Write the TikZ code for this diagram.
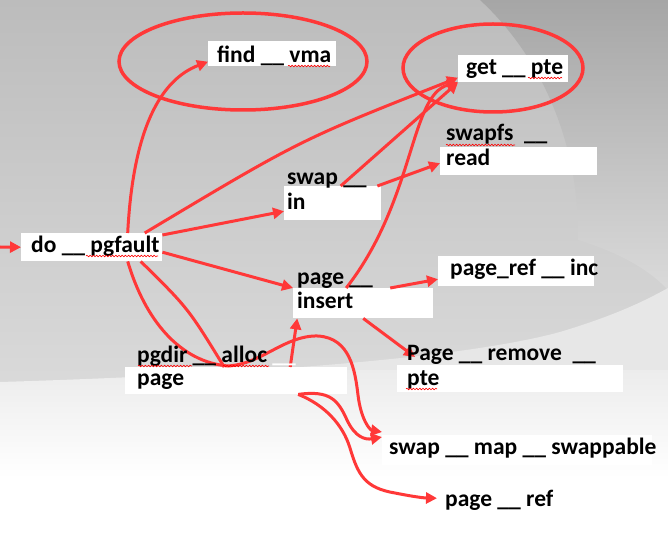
\documentclass[tikz,border=0pt]{standalone}
\usepackage{fontspec}
\setmainfont{Carlito}
\usetikzlibrary{arrows.meta,decorations.pathmorphing}
\definecolor{callred}{RGB}{255,56,56}
\definecolor{bgtop}{RGB}{188,188,188}
\definecolor{bgmid}{RGB}{218,218,218}
\definecolor{bgdark}{RGB}{166,166,166}
\definecolor{bglight}{RGB}{236,236,236}
\tikzset{
  fnbox/.style={fill=white, inner sep=0pt, anchor=north west},
  fntext/.style={font=\fontsize{23.5}{28}\selectfont\bfseries, inner sep=0pt, anchor=base west, text=black},
  link/.style={draw=callred, line width=3pt},
  call/.style={link, -{Triangle[length=11pt,width=11pt]}},
  ring/.style={draw=callred, line width=3.5pt},
  squig/.style={draw=red, line width=0.6pt, decorate, decoration={snake, amplitude=0.8pt, segment length=3.2pt}}
}
\begin{document}
\begin{tikzpicture}[x=1pt, y=-1pt]
  \useasboundingbox (0,0) rectangle (668,534);
  % background
  \shade[top color=bgtop, bottom color=bgmid] (0,0) rectangle (668,390);
  \shade[top color=bgdark, bottom color=bgmid] (480,0) .. controls (545,60) and (580,150) .. (578,240) .. controls (610,250) and (645,265) .. (668,290) -- (668,0) -- cycle;
  \begin{scope}
    \clip (0,382) .. controls (200,376) and (450,362) .. (560,332) .. controls (620,314) and (650,298) .. (668,288) -- (668,534) -- (0,534) -- cycle;
    \fill[bglight!95!gray] (0,280) rectangle (668,370);
    \shade[top color=bglight, bottom color=white] (0,370) rectangle (668,478);
    \fill[white] (0,478) rectangle (668,534);
  \end{scope}

  % boxes
  \node[fnbox, minimum width=141pt, minimum height=28pt] (dopgfault) at (21,233) {};
  \node[fnbox, minimum width=128pt, minimum height=25pt] (findvma) at (208,41) {};
  \node[fnbox, minimum width=110pt, minimum height=27pt] (getpte) at (458,55) {};
  \node[fnbox, minimum width=157pt, minimum height=28pt] (swapfsread) at (440,147) {};
  \node[fnbox, minimum width=97pt, minimum height=34pt] (swapin) at (284,186) {};
  \node[fnbox, minimum width=140pt, minimum height=30pt] (pageinsert) at (293,288) {};
  \node[fnbox, minimum width=156pt, minimum height=30pt] (pagerefinc) at (438,256) {};
  \node[fnbox, minimum width=226pt, minimum height=27pt] (pageremovepte) at (397,365) {};
  \node[fnbox, minimum width=222pt, minimum height=27pt] (pgdirallocpage) at (125,367) {};
  \node[fnbox, minimum width=270pt, minimum height=30pt] (swapmap) at (382,435) {};
  \node[fnbox, minimum width=120pt, minimum height=28pt] (pageref) at (437,484) {};
  \coordinate (entry) at (0,247);

  % calls
  \draw[call] (entry) -- (dopgfault.west);
  \draw[call] ([xshift=36pt]dopgfault.north) .. controls (133,130) and (160,80) .. ([yshift=-8pt]findvma.west);
  \draw[call] ([xshift=53pt]dopgfault.north) .. controls (300,140) .. ([yshift=-9pt]getpte.west);
  \draw[call] ([yshift=-2pt]dopgfault.north east) -- ([yshift=-8pt]swapin.west);
  \draw[call] ([xshift=8pt]swapin.north) -- (getpte.south west);
  \draw[call] ([xshift=-4pt]swapin.north east) -- ([yshift=-2pt]swapfsread.west);
  \draw[call] ([yshift=-5pt]dopgfault.east) -- (pageinsert.north west);
  \draw[call] ([xshift=-17pt]pageinsert.north) .. controls (415,200) and (410,95) .. (getpte.south west);
  \draw[call] ([xshift=27pt]pageinsert.north) -- ([yshift=-8pt]pagerefinc.west);
  \draw[call] (pageinsert.south) -- ([xshift=18pt,yshift=8pt]pageremovepte.north west);
  \draw[call] ([xshift=36pt]dopgfault.south) .. controls (145,320) and (180,362) .. (228,366)
    .. controls (262,364) and (285,335) .. (318,336) .. controls (350,338) and (355,370) .. (358,395)
    .. controls (361,420) and (370,430) .. ([yshift=3pt]swapmap.north west);
  \draw[link] ([xshift=49pt]dopgfault.south) .. controls (188,308) .. ([xshift=-12pt]pgdirallocpage.north);
  \draw[call] ([xshift=54pt]pgdirallocpage.north) -- ([xshift=-66pt]pageinsert.south);
  \draw[call] ([xshift=62pt]pgdirallocpage.south) .. controls (330,390) and (338,400) .. (347,420)
    .. controls (355,437) and (365,440) .. ([yshift=-2pt]swapmap.north west);
  \draw[call] ([xshift=62pt]pgdirallocpage.south) .. controls (325,405) and (343,425) .. (350,448)
    .. controls (358,475) and (365,488) .. (395,493) .. controls (415,497) and (425,498) .. (pageref.west);

  % circled functions
  \draw[ring] (243,61.5) ellipse [x radius=124, y radius=48.5];
  \draw[ring] (493,68) ellipse [x radius=90, y radius=44];

  % labels
  \node[fntext] (t-dopgfault) at (31,253) {do \_\_ pgfault};
  \node[fntext] (t-findvma) at (217,63) {find \_\_ vma};
  \node[fntext] (t-getpte) at (466,75) {get \_\_ pte};
  \node[fntext] (t-swapfs) at (446,141) {swapfs\ \ \_\_};
  \node[fntext] (t-read) at (446,166) {read};
  \node[fntext] (t-swap) at (287,185) {swap \_\_};
  \node[fntext] (t-in) at (287,210) {in};
  \node[fntext] (t-page) at (297,284) {page \_\_};
  \node[fntext] (t-insert) at (297,308) {insert};
  \node[fntext] (t-pagerefinc) at (450,276) {page\_ref \_\_ inc};
  \node[fntext] (t-pageremove) at (407,360) {Page \_\_ remove\ \ \_\_};
  \node[fntext] (t-pte) at (407,385) {pte};
  \node[fntext] (t-pgdiralloc) at (137,362) {pgdir \_\_ alloc \textcolor{white}{\_\_}};
  \node[fntext] (t-pagealloc) at (137,385) {page};
  \node[fntext] (t-swapmap) at (389,454) {swap \_\_ map \_\_ swappable};
  \node[fntext] (t-pageref) at (445,506) {page \_\_ ref};

  % spelling marks
  \draw[squig] (86,256) -- (158,256);
  \draw[squig] (288,66) -- (330,66);
  \draw[squig] (528,78) -- (562,78);
  \draw[squig] (446,145) -- (515,145);
  \draw[squig] (138,366) -- (192,366);
  \draw[squig] (223,366) -- (269,366);
  \draw[squig] (406,389) -- (437,389);
\end{tikzpicture}
\end{document}
